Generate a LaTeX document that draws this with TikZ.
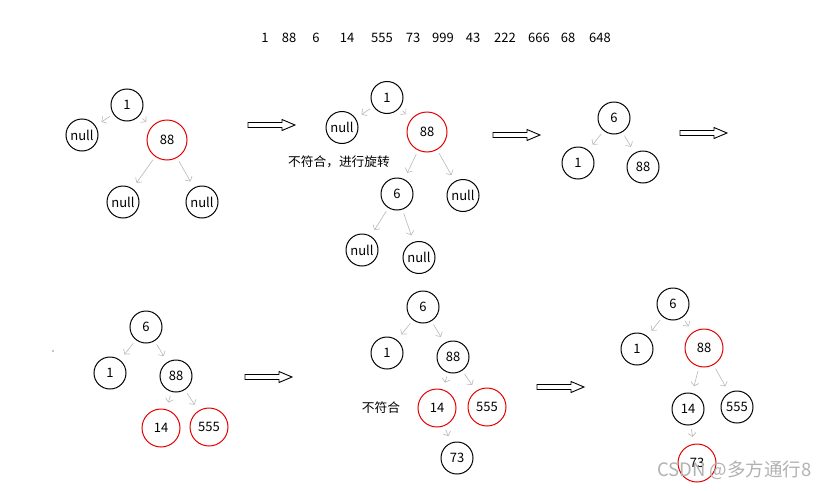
\documentclass[tikz,border=0pt]{standalone}
\usepackage{fontspec}
\setmainfont{Noto Sans CJK SC}
\usetikzlibrary{arrows.meta}
\begin{document}
\begin{tikzpicture}[x=1pt,y=-1pt,
  nd/.style={circle,draw=black,line width=1pt,inner sep=0pt,minimum size=#1,font=\fontsize{13}{14}\selectfont},
  nd/.default=32pt,
  rd/.style={nd=#1,draw=red!90!black},
  rd/.default=38pt,
  edge/.style={draw=gray!55,line width=0.6pt,-{Straight Barb[length=3.5pt,width=8pt]},shorten <=4pt,shorten >=7pt},
  barrow/.style={draw=black,line width=0.9pt,fill=white},
  lbl/.style={font=\fontsize{12.7}{14}\selectfont},
  blk/.pic={\draw[barrow] (0,-2.5) -- (34,-2.5) -- (34,-5.5) -- (47,0) -- (34,5.5) -- (34,2.5) -- (0,2.5) -- cycle;}
]
\useasboundingbox[fill=white] (0,0) rectangle (830,490);

% top sequence
\foreach \v/\x [count=\i] in {1/265,88/289,6/316,14/347,555/382,73/413,999/443,43/473,222/505,666/539,68/568,648/600}
  \node[font=\fontsize{13}{14}\selectfont,inner sep=0pt] (s\i) at (\x,38) {\v};

% tree 1
\node[nd] (a1) at (127,105) {1};
\node[nd] (a2) at (82,135) {null};
\node[rd=40pt] (a3) at (167,140) {88};
\node[nd] (a4) at (123,202) {null};
\node[nd] (a5) at (202,202) {null};
\draw[edge] (a1) -- (a2);
\draw[edge] (a1) -- (a3);
\draw[edge] (a3) -- (a4);
\draw[edge] (a3) -- (a5);

% tree 2
\node[nd] (b1) at (387,97.5) {1};
\node[nd] (b2) at (342,127.5) {null};
\node[rd=40pt] (b3) at (427,132) {88};
\node[nd] (b4) at (397,194) {6};
\node[nd] (b5) at (463,195.5) {null};
\node[nd] (b6) at (362,250) {null};
\node[nd] (b7) at (419,257.5) {null};
\node[lbl,anchor=west,inner sep=0pt] (bt) at (288,162) {不符合，进行旋转};
\draw[edge] (b1) -- (b2);
\draw[edge] (b1) -- (b3);
\draw[edge] (b3) -- (b4);
\draw[edge] (b3) -- (b5);
\draw[edge] (b4) -- (b6);
\draw[edge] (b4) -- (b7);

% tree 3
\node[nd] (c1) at (614,118) {6};
\node[nd] (c2) at (578,163) {1};
\node[nd] (c3) at (643,167) {88};
\draw[edge] (c1) -- (c2);
\draw[edge] (c1) -- (c3);

% tree 4
\fill (53,351) circle (0.7);
\node[nd] (d1) at (146,327) {6};
\node[nd] (d2) at (110,373) {1};
\node[nd] (d3) at (176,376) {88};
\node[rd] (d4) at (161,428) {14};
\node[rd] (d5) at (209,427) {555};
\draw[edge] (d1) -- (d2);
\draw[edge] (d1) -- (d3);
\draw[edge] (d3) -- (d4);
\draw[edge] (d3) -- (d5);

% tree 5
\node[nd] (e1) at (423,307) {6};
\node[nd] (e2) at (387,353) {1};
\node[nd] (e3) at (453,357) {88};
\node[rd] (e4) at (437,408) {14};
\node[rd] (e5) at (487,407) {555};
\node[nd] (e6) at (457,458) {73};
\node[lbl,inner sep=0pt] (et) at (381,408) {不符合};
\draw[edge] (e1) -- (e2);
\draw[edge] (e1) -- (e3);
\draw[edge] (e3) -- (e4);
\draw[edge] (e3) -- (e5);
\draw[edge] (e4) -- (e6);

% tree 6
\node[nd] (f1) at (673,304) {6};
\node[nd] (f2) at (637,349) {1};
\node[rd] (f3) at (704,348) {88};
\node[nd] (f4) at (688,409) {14};
\node[nd] (f5) at (737,407) {555};
\node[rd] (f6) at (697,463) {73};
\draw[edge] (f1) -- (f2);
\draw[edge] (f1) -- (f3);
\draw[edge] (f3) -- (f4);
\draw[edge] (f3) -- (f5);
\draw[edge] (f4) -- (f6);

% block arrows
\pic at (248,125) {blk};
\pic at (493,135) {blk};
\pic at (680,133) {blk};
\pic at (245,377) {blk};
\pic at (537,387) {blk};

% watermark
\node[anchor=west,inner sep=0pt,text=gray!60,font=\fontsize{18.5}{19}\selectfont] (wm) at (657,470) {CSDN @多方通行8};
\end{tikzpicture}
\end{document}
